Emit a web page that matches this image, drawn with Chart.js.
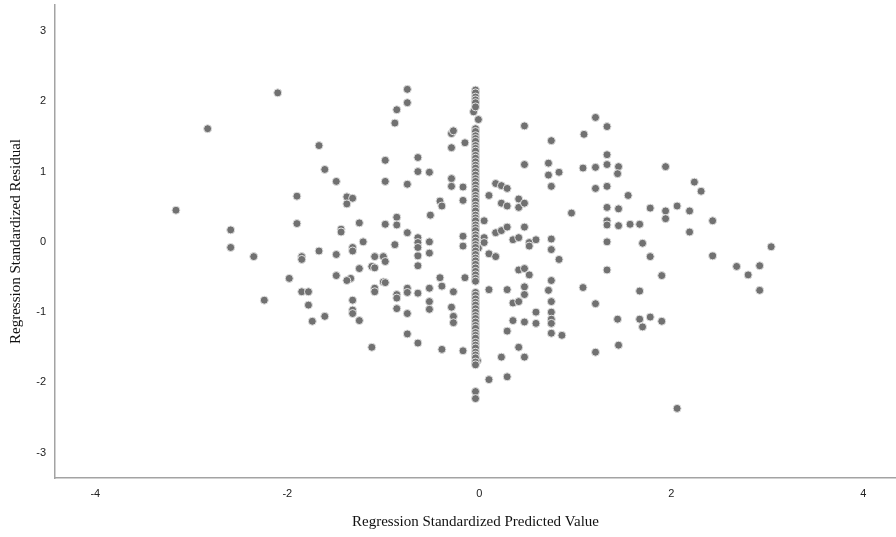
<!DOCTYPE html>
<html lang="en">
<head>
<meta charset="UTF-8">
<script src="https://cdn.jsdelivr.net/npm/chart.js"></script>
<style>
  html, body { margin: 0; padding: 0; background: #fff; }
  #wrap { width: 896px; height: 537px; }
</style>
</head>
<body>
<div id="wrap"><canvas id="myChart" width="896" height="537"></canvas></div>
<script>
// scattered cases: predicted (x) / residual (y)
var predicted = [
  -3.16, -2.83, -2.10, -2.59, -2.59, -2.35, -2.24, -1.90, -1.90, -1.98,
  -1.85, -1.85, -1.85, -1.78, -1.78, -1.74, -1.67, -1.67, -1.61, -1.61,
  -1.49, -1.49, -1.49, -1.44, -1.44, -1.38, -1.32, -1.38, -1.32, -1.32,
  -1.34, -1.38, -1.32, -1.32, -1.32, -1.25, -1.25, -1.25, -1.21, -1.12,
  -1.09, -1.09, -1.00, -0.98, -1.09, -1.09, -1.12, -1.00, -0.98, -0.98,
  -0.98, -0.98, -0.88, -0.86, -0.86, -0.86, -0.88, -0.86, -0.86, -0.86,
  -0.75, -0.75, -0.75, -0.75, -0.75, -0.75, -0.75, -0.75, -0.64, -0.64,
  -0.64, -0.64, -0.64, -0.64, -0.64, -0.64, -0.64, -0.52, -0.51, -0.52,
  -0.52, -0.52, -0.52, -0.52, -0.41, -0.39, -0.41, -0.39, -0.39, -0.29,
  -0.27, -0.29, -0.29, -0.29, -0.29, -0.27, -0.27, -0.27, -0.17, -0.17,
  -0.17, -0.17, -0.17, -0.15, -0.15,
  -0.06, -0.01, -0.02, -0.01,
  0.05, 0.05, 0.05, 0.10, 0.10, 0.10, 0.10, 0.17, 0.17, 0.17,
  0.23, 0.23, 0.23, 0.23, 0.29, 0.29, 0.29, 0.29, 0.29, 0.29,
  0.35, 0.35, 0.35, 0.41, 0.41, 0.41, 0.41, 0.41, 0.41, 0.47,
  0.47, 0.47, 0.47, 0.47, 0.47, 0.47, 0.47, 0.47, 0.52, 0.52,
  0.52, 0.59, 0.59, 0.59, 0.72, 0.72, 0.72, 0.75, 0.75, 0.75,
  0.75, 0.75, 0.75, 0.75, 0.75, 0.75, 0.75, 0.83, 0.83, 0.86,
  0.96, 1.08, 1.09, 1.08, 1.21, 1.21, 1.21, 1.21, 1.21, 1.33,
  1.33, 1.33, 1.33, 1.33, 1.33, 1.33, 1.33, 1.33, 1.45, 1.44,
  1.45, 1.45, 1.44, 1.45, 1.55, 1.57, 1.67, 1.67, 1.67, 1.70,
  1.70, 1.78, 1.78, 1.78, 1.90, 1.90, 1.94, 1.94, 1.94, 2.06,
  2.06, 2.19, 2.19, 2.24, 2.31, 2.43, 2.43, 2.68, 2.80, 2.92,
  2.92, 3.04
];
var residual = [
  0.45, 1.61, 2.12, 0.17, -0.08, -0.21, -0.83, 0.65, 0.26, -0.52,
  -0.21, -0.25, -0.71, -0.71, -0.90, -1.13, 1.37, -0.13, 1.03, -1.06,
  0.86, -0.18, -0.48, 0.18, 0.14, 0.64, 0.62, 0.54, -0.08, -0.13,
  -0.52, -0.55, -0.83, -0.97, -1.02, 0.27, -0.38, -1.12, 0.00, -0.35,
  -0.37, -0.21, -0.21, -0.28, -0.66, -0.71, -1.50, -0.57, -0.58, 1.16,
  0.86, 0.25, 1.69, 1.88, 0.35, 0.24, -0.04, -0.75, -0.80, -0.95,
  2.17, 1.98, 0.82, 0.13, -0.66, -0.72, -1.02, -1.31, 1.20, 1.00,
  0.06, -0.01, -0.08, -0.20, -0.34, -0.73, -1.44, 0.99, 0.38, 0.00,
  -0.16, -0.66, -0.85, -0.96, 0.58, 0.51, -0.51, -0.63, -1.53, 1.54,
  1.58, 1.34, 0.90, 0.79, -0.93, -0.71, -1.06, -1.15, 0.78, 0.59,
  0.08, -0.06, -1.55, 1.41, -0.51,
  1.85, 1.74, -1.69, -0.09,
  0.30, 0.06, -0.01, 0.66, -0.17, -0.68, -1.96, 0.83, 0.13, -0.21,
  0.80, 0.55, 0.16, -1.64, 0.76, 0.51, 0.21, -0.68, -1.27, -1.92,
  0.03, -0.87, -1.12, 0.61, 0.49, 0.06, -0.40, -0.85, -1.50, 1.65,
  1.10, 0.55, 0.21, -0.38, -0.64, -0.75, -1.14, -1.64, -0.01, -0.06,
  -0.47, 0.03, -1.00, -1.16, 1.12, 0.95, -0.69, 1.44, 0.79, 0.04,
  -0.11, -0.55, -0.85, -1.00, -1.10, -1.16, -1.30, 0.99, -0.25, -1.33,
  0.41, 1.05, 1.53, -0.65, 1.77, 1.06, 0.76, -0.88, -1.57, 1.64,
  1.24, 1.10, 0.79, 0.49, 0.30, 0.24, 0.00, -0.40, 1.07, 0.97,
  0.47, 0.23, -1.10, -1.47, 0.66, 0.25, 0.25, -0.70, -1.10, -0.02,
  -1.21, 0.48, -0.21, -1.07, -0.48, -1.13, 1.07, 0.44, 0.33, 0.51,
  -2.37, 0.44, 0.14, 0.85, 0.72, 0.30, -0.20, -0.35, -0.47, -0.34,
  -0.69, -0.07
];

// the dense vertical stack of cases near predicted = 0
var stackPredicted = -0.04;
var stackResidual = [
  2.16, 2.12, 2.06, 2.02, 1.98, 1.92,
  1.61, 1.57, 1.51, 1.47, 1.43, 1.37, 1.33, 1.29, 1.23, 1.19,
  1.14, 1.09, 1.05, 1.00, 0.95, 0.90, 0.86, 0.81, 0.76, 0.72,
  0.66, 0.62, 0.58, 0.52, 0.48, 0.44, 0.38, 0.34, 0.30, 0.24,
  0.20, 0.16, 0.10, 0.06, 0.01,
  -0.04, -0.08, -0.13, -0.18, -0.23, -0.27, -0.32, -0.37, -0.42, -0.47,
  -0.52, -0.56,
  -0.72, -0.76, -0.81, -0.86, -0.90, -0.95, -1.00, -1.05, -1.09, -1.14,
  -1.19, -1.23, -1.29, -1.33, -1.37, -1.43, -1.47, -1.51, -1.57, -1.61,
  -1.65, -1.71, -1.75,
  -2.13, -2.23
];

var xTicks = [-4, -2, 0, 2, 4];
var yTicks = [-3, -2, -1, 0, 1, 2, 3];

var points = [];
for (var i = 0; i < predicted.length; i++) {
  points.push({ x: predicted[i], y: residual[i] });
}
for (var j = 0; j < stackResidual.length; j++) {
  points.push({ x: stackPredicted, y: stackResidual[j] });
}

var tickFont = { family: 'Arial, "Liberation Sans", sans-serif', size: 11 };
var titleFont = { family: '"Times New Roman", "Liberation Serif", serif', size: 15 };

var ctx = document.getElementById('myChart').getContext('2d');
var myChart = new Chart(ctx, {
  type: 'scatter',
  data: {
    datasets: [{
      data: points,
      backgroundColor: '#717171',
      borderColor: '#e2e2e2',
      borderWidth: 1,
      pointRadius: 4,
      pointHoverRadius: 4
    }]
  },
  options: {
    responsive: false,
    animation: false,
    layout: { autoPadding: false, padding: { top: 5, right: 0, left: 0, bottom: 0 } },
    plugins: { legend: { display: false }, tooltip: { enabled: false } },
    scales: {
      x: {
        type: 'linear',
        min: -4.42,
        max: 4.34,
        afterBuildTicks: function (scale) {
          scale.ticks = xTicks.map(function (v) { return { value: v }; });
        },
        afterFit: function (scale) {
          scale.height = 59;
          scale.paddingLeft = 0;
          scale.paddingRight = 0;
        },
        grid: { display: false, drawTicks: false },
        border: { display: true, color: '#a3a3a3', width: 1.5 },
        ticks: { color: '#222', font: tickFont, padding: 9, maxRotation: 0 },
        title: {
          display: true,
          text: 'Regression Standardized Predicted Value',
          color: '#111',
          font: titleFont,
          padding: { top: 0, bottom: 6 }
        }
      },
      y: {
        type: 'linear',
        min: -3.36,
        max: 3.37,
        afterBuildTicks: function (scale) {
          scale.ticks = yTicks.map(function (v) { return { value: v }; });
        },
        afterFit: function (scale) {
          scale.width = 55;
          scale.paddingTop = 0;
          scale.paddingBottom = 0;
        },
        grid: { display: false, drawTicks: false },
        border: { display: true, color: '#a3a3a3', width: 1.5 },
        ticks: { color: '#222', font: tickFont, padding: 9 },
        title: {
          display: true,
          text: 'Regression Standardized Residual',
          color: '#111',
          font: titleFont,
          padding: { top: 7, bottom: 0 }
        }
      }
    }
  }
});
</script>
</body>
</html>
